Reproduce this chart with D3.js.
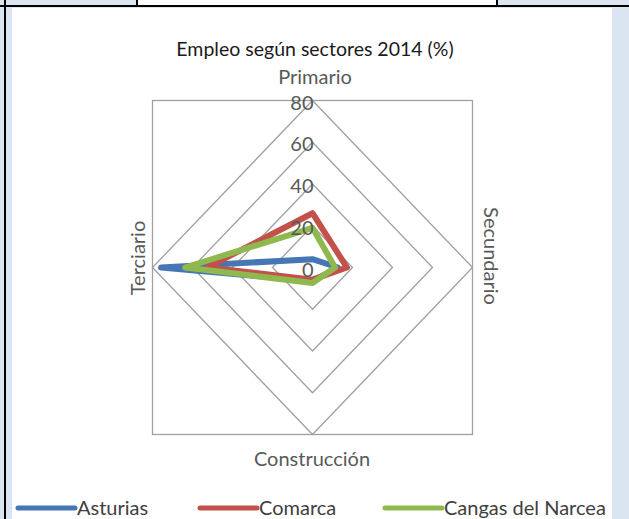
<!DOCTYPE html>
<html>
<head>
<meta charset="utf-8">
<script src="https://cdn.jsdelivr.net/npm/d3@7"></script>
<style>
  html, body { margin: 0; padding: 0; background: #dbe5f1; }
  svg { display: block; }
  text { font-family: Lato, "Open Sans", sans-serif; }
</style>
</head>
<body>
<svg id="chart" width="629" height="519"></svg>
<script>
// Sectors (radar axes, clockwise from the top)
const sectors = ["Primario", "Secundario", "Construcción", "Terciario"];
// Employment share by sector, 2014 (%)
const asturias = [4, 12.7, 6.5, 75.7];
const comarca = [26, 17.2, 5.8, 52.7];
const cangas = [19, 11.3, 7.4, 63.7];
const seriesNames = ["Asturias", "Comarca", "Cangas del Narcea"];
const tickValues = [0, 20, 40, 60, 80];

const series = [
  { name: seriesNames[0], values: asturias, color: "#4677b4" },
  { name: seriesNames[1], values: comarca, color: "#c4504c" },
  { name: seriesNames[2], values: cangas, color: "#8fb84f" }
];

const svg = d3.select("#chart");

// Table frame around the chart cell
svg.append("rect").attr("x", 12).attr("y", 8).attr("width", 600).attr("height", 511).attr("fill", "#ffffff");
svg.append("rect").attr("x", 137).attr("y", 0).attr("width", 360).attr("height", 6).attr("fill", "#ffffff");
svg.append("line").attr("x1", 0).attr("x2", 629).attr("y1", 6).attr("y2", 6).attr("stroke", "#000").attr("stroke-width", 2);
svg.append("line").attr("x1", 5).attr("x2", 5).attr("y1", 0).attr("y2", 519).attr("stroke", "#000").attr("stroke-width", 2);
svg.append("line").attr("x1", 137).attr("x2", 137).attr("y1", 0).attr("y2", 6).attr("stroke", "#000").attr("stroke-width", 2);
svg.append("line").attr("x1", 497).attr("x2", 497).attr("y1", 0).attr("y2", 6).attr("stroke", "#000").attr("stroke-width", 2);

// Radar geometry
const cx = 312.5, cy = 267.5;
const rx = d3.scaleLinear().domain([0, 80]).range([0, 160]);
const ry = d3.scaleLinear().domain([0, 80]).range([0, 167]);
const angle = d3.scalePoint().domain(d3.range(sectors.length)).range([0, 2 * Math.PI * (sectors.length - 1) / sectors.length]);

function pt(i, v) {
  const a = angle(i);
  return [cx + Math.sin(a) * rx(v), cy - Math.cos(a) * ry(v)];
}

const closedLine = d3.line().curve(d3.curveLinearClosed);

// Plot frame
svg.append("rect")
  .attr("x", cx - rx(80)).attr("y", cy - ry(80))
  .attr("width", 2 * rx(80)).attr("height", 2 * ry(80))
  .attr("fill", "none").attr("stroke", "#a0a0a0").attr("stroke-width", 1.3);

// Grid rings
svg.append("g").selectAll("path")
  .data(tickValues.filter(t => t > 0))
  .join("path")
  .attr("d", t => closedLine(sectors.map((s, i) => pt(i, t))))
  .attr("fill", "none").attr("stroke", "#a0a0a0").attr("stroke-width", 1.3);

// Series polygons
svg.append("g").selectAll("path")
  .data(series)
  .join("path")
  .attr("d", d => closedLine(d.values.map((v, i) => pt(i, v))))
  .attr("fill", "none")
  .attr("stroke", d => d.color)
  .attr("stroke-width", 6)
  .attr("stroke-linejoin", "round");

// Value ticks along the top axis
svg.append("g").selectAll("text")
  .data(tickValues)
  .join("text")
  .attr("x", t => pt(0, t)[0] + 1)
  .attr("y", t => pt(0, t)[1] + 1)
  .attr("text-anchor", "end")
  .attr("dominant-baseline", "central")
  .attr("font-size", 20)
  .attr("fill", "#595959")
  .text(t => t);

// Category labels
const labelStyle = sel => sel.attr("font-size", 20).attr("fill", "#595959").attr("text-anchor", "middle");
svg.append("text").call(labelStyle).attr("x", 315).attr("y", 84).text(sectors[0]);
svg.append("text").call(labelStyle).attr("transform", "translate(484,256) rotate(90)").text(sectors[1]);
svg.append("text").call(labelStyle).attr("x", 312).attr("y", 466).text(sectors[2]);
svg.append("text").call(labelStyle).attr("transform", "translate(145,258) rotate(-90)").text(sectors[3]);

// Title
svg.append("text")
  .attr("x", 315).attr("y", 56)
  .attr("text-anchor", "middle")
  .attr("font-size", 19.5)
  .attr("fill", "#1a1a1a")
  .text("Empleo según sectores 2014 (%)");

// Legend
const legendX = [18, 200, 385];
const legend = svg.append("g").selectAll("g")
  .data(series)
  .join("g")
  .attr("transform", (d, i) => `translate(${legendX[i]},508)`);
legend.append("line")
  .attr("x1", 0).attr("x2", 57).attr("y1", 0).attr("y2", 0)
  .attr("stroke", d => d.color).attr("stroke-width", 5).attr("stroke-linecap", "round");
legend.append("text")
  .attr("x", 59).attr("y", 7)
  .attr("font-size", 20)
  .attr("fill", "#404040")
  .text(d => d.name);
</script>
</body>
</html>
